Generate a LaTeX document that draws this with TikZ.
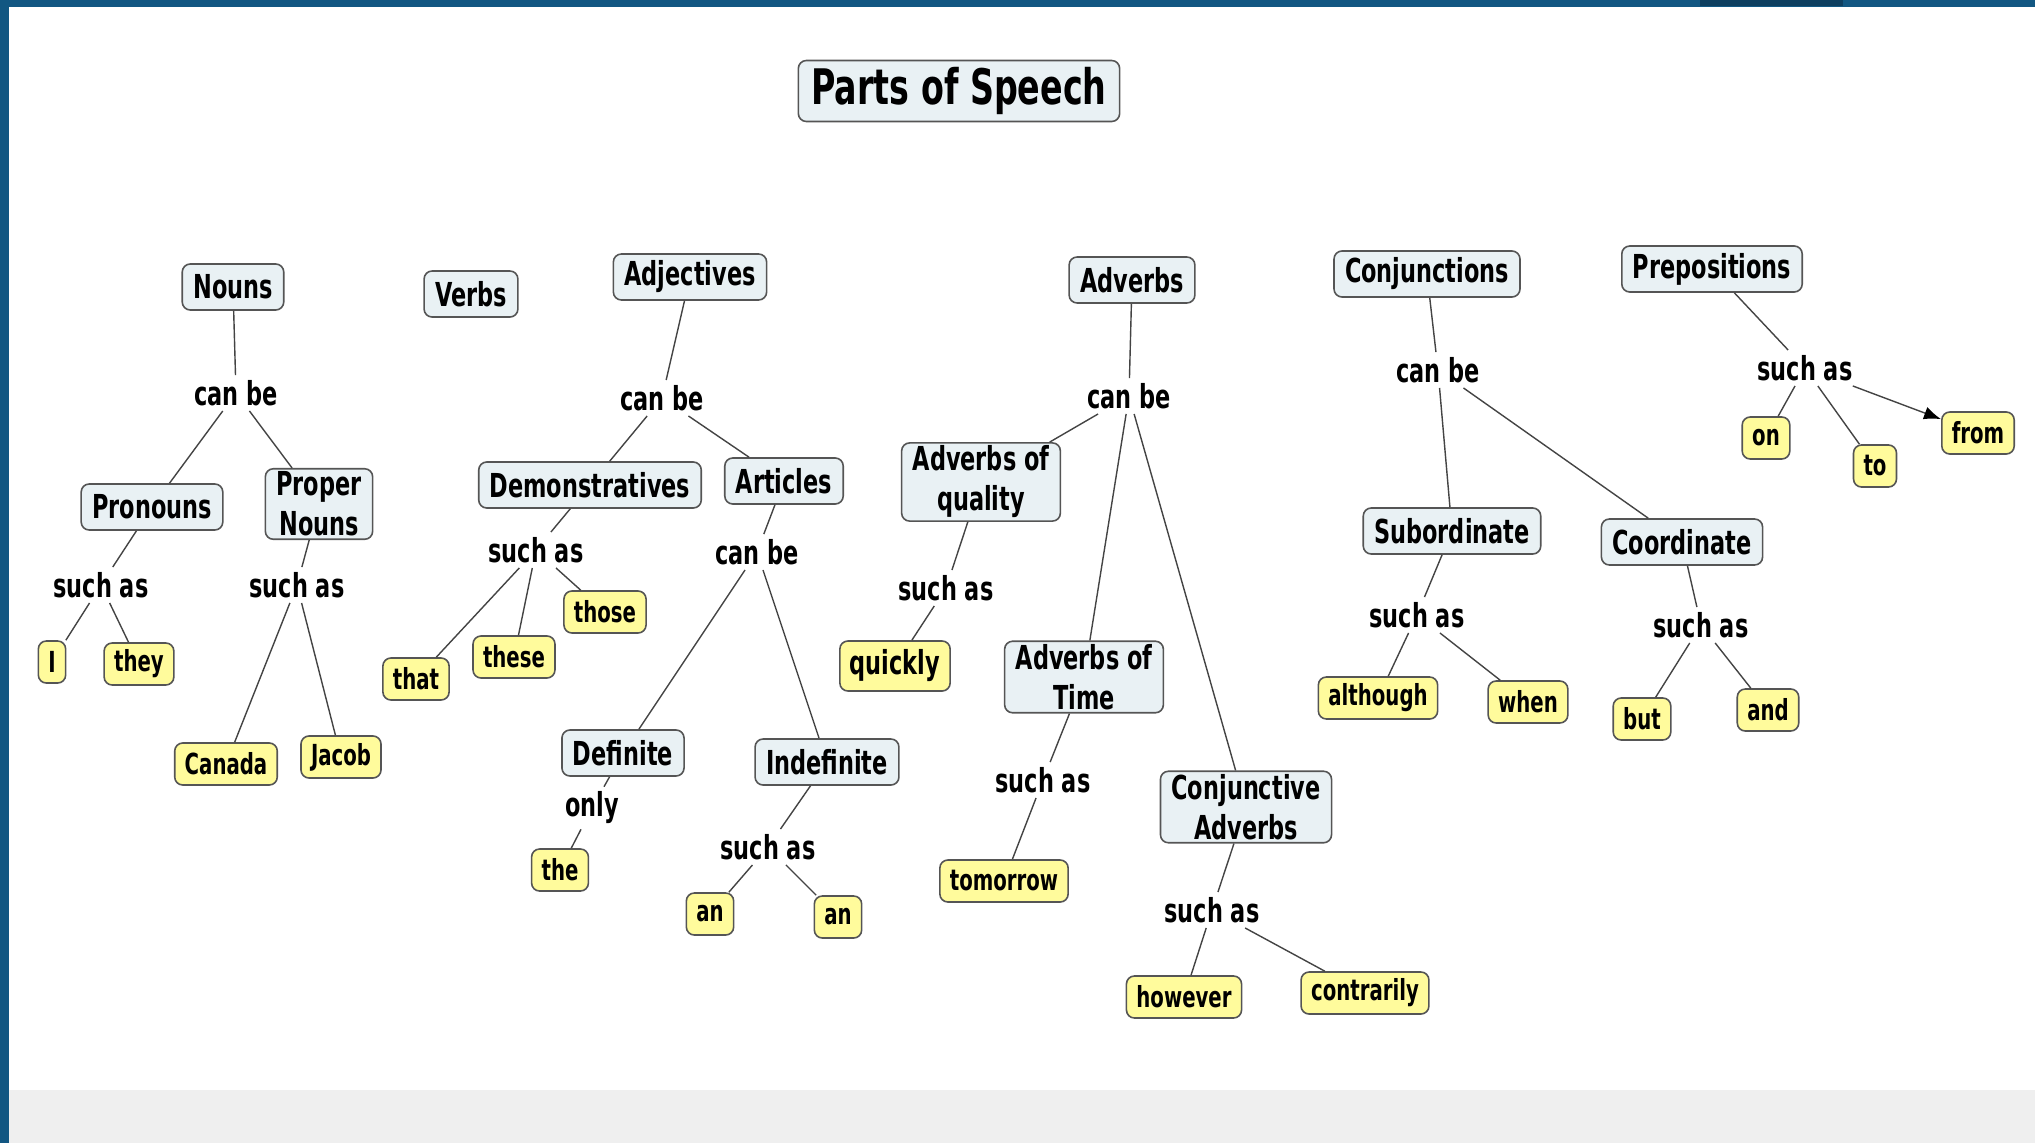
\documentclass[tikz,border=0pt]{standalone}
\usepackage{fontspec}
\newfontfamily\mapfont{DejaVu Sans}[FakeStretch=0.68]
\usepackage{xcolor}
\usepackage{tikz}
\usetikzlibrary{arrows.meta}
\definecolor{cmblue}{HTML}{125782}
\definecolor{cmdark}{HTML}{0E3F60}
\definecolor{cmband}{HTML}{EFEFEF}
\definecolor{cmfill}{HTML}{E9F1F4}
\definecolor{cmyellow}{HTML}{FFFB9C}
\definecolor{cmborder}{HTML}{555555}
\definecolor{cmline}{HTML}{444444}

\begin{document}
\begin{tikzpicture}[
  x=1pt,y=-1pt,
  concept/.style={draw=cmborder,fill=cmfill,rounded corners=8pt,line width=1.6pt,inner xsep=11pt,inner ysep=3pt,minimum height=46pt,align=center,font=\mapfont\bfseries\fontsize{33}{40}\selectfont},
  leaf/.style={concept,fill=cmyellow,minimum height=42pt,inner xsep=10pt,font=\mapfont\bfseries\fontsize{29}{35}\selectfont},
  link/.style={inner sep=5pt,font=\mapfont\bfseries\fontsize{33}{40}\selectfont},
  line/.style={draw=cmline,line width=1.4pt},
  arrow/.style={line,-{Latex[length=17pt,width=13pt,color=black]}}
]
  % frame of the page
  \useasboundingbox (0,0) rectangle (2035,1143);
  \fill[white] (0,0) rectangle (2035,1143);
  \fill[cmband] (9,1090) rectangle (2035,1143);
  \fill[cmblue] (0,0) rectangle (9,1143);
  \fill[cmblue] (0,0) rectangle (2035,7);
  \fill[cmdark] (1700,0) rectangle (1843,6);

  \node[concept,minimum height=61pt,inner xsep=13pt,font=\mapfont\bfseries\fontsize{49}{56}\selectfont] (title) at (959,91) {Parts of Speech};

  % top row
  \node[concept] (nouns) at (233,287) {Nouns};
  \node[concept] (verbs) at (471,294) {Verbs};
  \node[concept] (adjectives) at (690,277) {Adjectives};
  \node[concept] (adverbs) at (1132,280) {Adverbs};
  \node[concept] (conjunctions) at (1427,274) {Conjunctions};
  \node[concept] (prepositions) at (1712,269) {Prepositions};

  % nouns
  \node[link] (nounsCan) at (236,393) {can be};
  \node[concept] (pronouns) at (152,507) {Pronouns};
  \node[concept] (proper) at (319,504) {Proper\\Nouns};
  \node[link] (pronSuch) at (101,585) {such as};
  \node[link] (properSuch) at (297,585) {such as};
  \node[leaf] (pronI) at (52,662) {I};
  \node[leaf] (pronThey) at (139,664) {they};
  \node[leaf] (propCanada) at (226,764) {Canada};
  \node[leaf] (propJacob) at (341,757) {Jacob};

  % adjectives
  \node[link] (adjCan) at (662,398) {can be};
  \node[concept] (demo) at (590,485) {Demonstratives};
  \node[concept] (articles) at (784,481) {Articles};
  \node[link] (demoSuch) at (536,550) {such as};
  \node[leaf] (demoThat) at (416,679) {that};
  \node[leaf] (demoThese) at (514,657) {these};
  \node[leaf] (demoThose) at (605,612) {those};
  \node[link] (artCan) at (757,552) {can be};
  \node[concept] (definite) at (623,753) {Definite};
  \node[concept] (indefinite) at (827,762) {Indefinite};
  \node[link] (defOnly) at (592,808) {only};
  \node[leaf] (defThe) at (560,870) {the};
  \node[link] (indefSuch) at (768,847) {such as};
  \node[leaf] (indefAnA) at (710,914) {an};
  \node[leaf] (indefAnB) at (838,917) {an};

  % adverbs
  \node[link] (advCan) at (1129,396) {can be};
  \node[concept] (quality) at (981,482) {Adverbs of\\quality};
  \node[concept] (time) at (1084,677) {Adverbs of\\Time};
  \node[concept] (conjadv) at (1246,807) {Conjunctive\\Adverbs};
  \node[link] (qualSuch) at (946,588) {such as};
  \node[leaf,font=\mapfont\bfseries\fontsize{33}{40}\selectfont,minimum height=50pt] (qualQuickly) at (895,666) {quickly};
  \node[link] (timeSuch) at (1043,780) {such as};
  \node[leaf] (timeTomorrow) at (1004,881) {tomorrow};
  \node[link] (conjadvSuch) at (1212,910) {such as};
  \node[leaf] (conjadvHowever) at (1184,997) {however};
  \node[leaf] (conjadvContrarily) at (1365,993) {contrarily};

  % conjunctions
  \node[link] (conjCan) at (1438,370) {can be};
  \node[concept] (subord) at (1452,531) {Subordinate};
  \node[concept] (coord) at (1682,542) {Coordinate};
  \node[link] (subSuch) at (1417,615) {such as};
  \node[leaf] (subAlthough) at (1378,698) {although};
  \node[leaf] (subWhen) at (1528,702) {when};
  \node[link] (coordSuch) at (1701,625) {such as};
  \node[leaf] (coordBut) at (1642,719) {but};
  \node[leaf] (coordAnd) at (1768,710) {and};

  % prepositions
  \node[link] (prepSuch) at (1805,368) {such as};
  \node[leaf] (prepOn) at (1766,438) {on};
  \node[leaf] (prepTo) at (1875,466) {to};
  \node[leaf] (prepFrom) at (1978,433) {from};

  \draw[line] (nouns) -- (nounsCan);
  \draw[line] (nounsCan) -- (pronouns);
  \draw[line] (nounsCan) -- (proper);
  \draw[line] (pronouns) -- (pronSuch);
  \draw[line] (pronSuch) -- (pronI);
  \draw[line] (pronSuch) -- (pronThey);
  \draw[line] (proper) -- (properSuch);
  \draw[line] (properSuch) -- (propCanada);
  \draw[line] (properSuch) -- (propJacob);

  \draw[line] (adjectives) -- (adjCan);
  \draw[line] (adjCan) -- (demo);
  \draw[line] (adjCan) -- (articles);
  \draw[line] (demo) -- (demoSuch);
  \draw[line] (demoSuch) -- (demoThat);
  \draw[line] (demoSuch) -- (demoThese);
  \draw[line] (demoSuch) -- (demoThose);
  \draw[line] (articles) -- (artCan);
  \draw[line] (artCan) -- (definite);
  \draw[line] (artCan) -- (indefinite);
  \draw[line] (definite) -- (defOnly);
  \draw[line] (defOnly) -- (defThe);
  \draw[line] (indefinite) -- (indefSuch);
  \draw[line] (indefSuch) -- (indefAnA);
  \draw[line] (indefSuch) -- (indefAnB);

  \draw[line] (adverbs) -- (advCan);
  \draw[line] (advCan) -- (quality);
  \draw[line] (advCan) -- (time);
  \draw[line] (advCan) -- (conjadv);
  \draw[line] (quality) -- (qualSuch);
  \draw[line] (qualSuch) -- (qualQuickly);
  \draw[line] (time) -- (timeSuch);
  \draw[line] (timeSuch) -- (timeTomorrow);
  \draw[line] (conjadv) -- (conjadvSuch);
  \draw[line] (conjadvSuch) -- (conjadvHowever);
  \draw[line] (conjadvSuch) -- (conjadvContrarily);

  \draw[line] (conjunctions) -- (conjCan);
  \draw[line] (conjCan) -- (subord);
  \draw[line] (conjCan) -- (coord);
  \draw[line] (subord) -- (subSuch);
  \draw[line] (subSuch) -- (subAlthough);
  \draw[line] (subSuch) -- (subWhen);
  \draw[line] (coord) -- (coordSuch);
  \draw[line] (coordSuch) -- (coordBut);
  \draw[line] (coordSuch) -- (coordAnd);

  \draw[line] (prepositions) -- (prepSuch);
  \draw[line] (prepSuch) -- (prepOn);
  \draw[line] (prepSuch) -- (prepTo);
  \draw[arrow] (prepSuch) -- (prepFrom);
\end{tikzpicture}
\end{document}
